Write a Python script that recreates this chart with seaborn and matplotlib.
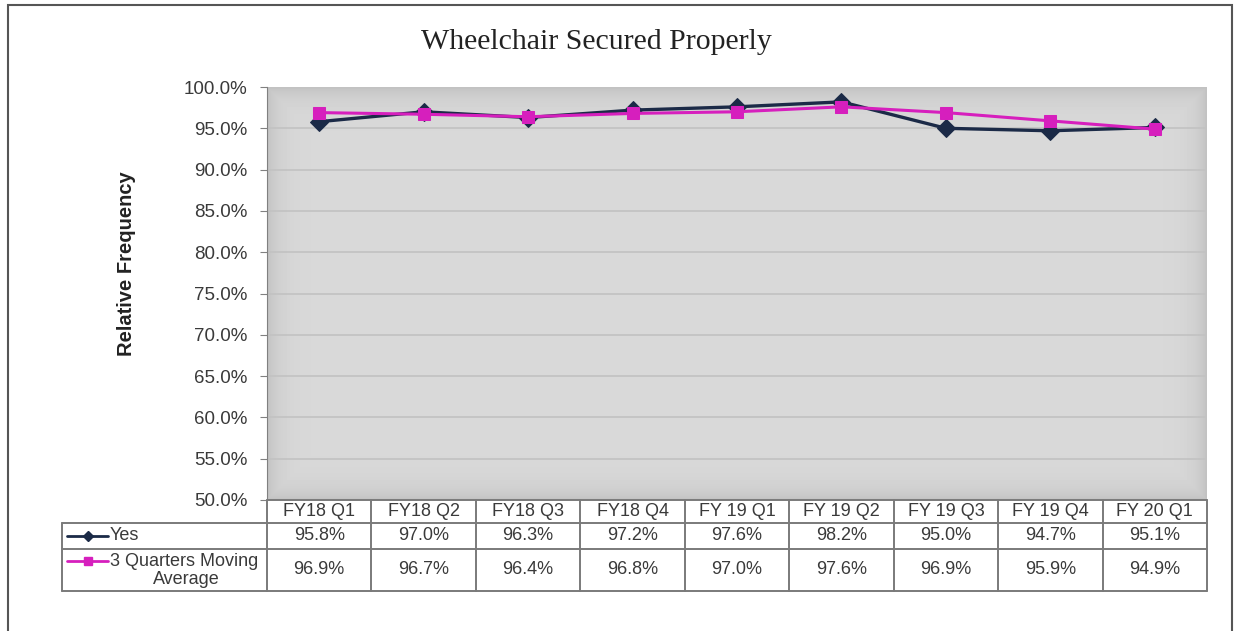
import numpy as np
import pandas as pd
import matplotlib
matplotlib.use("Agg")
import matplotlib.pyplot as plt
import matplotlib.transforms as mtrans
from matplotlib.lines import Line2D
from matplotlib.patches import Rectangle
import seaborn as sns

# ================== DATA ==================
quarters = ["FY18 Q1", "FY18 Q2", "FY18 Q3", "FY18 Q4", "FY 19 Q1",
            "FY 19 Q2", "FY 19 Q3", "FY 19 Q4", "FY 20 Q1"]
yes_vals = [95.8, 97.0, 96.3, 97.2, 97.6, 98.2, 95.0, 94.7, 95.1]
ma_vals = [96.9, 96.7, 96.4, 96.8, 97.0, 97.6, 96.9, 95.9, 94.9]
yticks = np.arange(50, 100.1, 5)

NAVY = "#1b2a47"
MAGENTA = "#d61fbd"
GRID = "#c2c2c2"
TXT = "#3a3a3a"

df = pd.DataFrame({"pos": np.arange(len(quarters)), "quarter": quarters,
                   "Yes": yes_vals, "MA": ma_vals})

# ================== FIGURE ==================
sns.set_style("white")
plt.rcParams["font.family"] = ["Liberation Sans", "DejaVu Sans"]

W, H = 1236, 631
fig = plt.figure(figsize=(W / 100, H / 100), dpi=100)


def fx(px):
    return px / W


def fy(py):
    return 1 - py / H


ax_l, ax_r, ax_t, ax_b = 267, 1207, 87, 500
ax = fig.add_axes([fx(ax_l), fy(ax_b), fx(ax_r - ax_l), fy(ax_t) - fy(ax_b)])

# plot area fill: flat light grey, darker toward the edges
pw, ph = ax_r - ax_l, ax_b - ax_t
yy, xx = np.mgrid[0:ph, 0:pw]
d = np.minimum(np.minimum(xx, pw - 1 - xx), np.minimum(yy, ph - 1 - yy))
shade = 0.85 - 0.09 * np.exp(-d / 12.0)
ax.imshow(shade, cmap="gray", vmin=0, vmax=1, extent=[0, 1, 0, 1],
          transform=ax.transAxes, aspect="auto", zorder=0, interpolation="bilinear")

for t in yticks[1:]:
    ax.axhline(t, color=GRID, lw=1.2, zorder=1)

sns.lineplot(data=df, x="pos", y="Yes", ax=ax, color=NAVY, lw=2.4, marker="D",
             markersize=9, markeredgecolor=NAVY, zorder=3)
sns.lineplot(data=df, x="pos", y="MA", ax=ax, color=MAGENTA, lw=2.2, marker="s",
             markersize=8, markeredgecolor=MAGENTA, zorder=4)

ax.set_xlim(-0.5, len(quarters) - 0.5)
ax.set_ylim(50, 100)
ax.set_yticks(yticks)
ax.set_yticklabels([f"{t:.1f}%" for t in yticks], fontsize=13.5, color=TXT)
ax.set_xticks([])
ax.set_xlabel("")
ax.set_ylabel("")
ax.tick_params(axis="y", length=5, color="#808080", pad=9, left=True)
for s in ["top", "right", "bottom"]:
    ax.spines[s].set_visible(False)
ax.spines["left"].set_color("#808080")

fig.text(fx(127), fy((172 + 355) / 2), "Relative Frequency", rotation=90,
         ha="center", va="center", fontsize=14.5, fontweight="bold", color="#222222")

fig.text(fx(596), fy(42), "Wheelchair Secured Properly", ha="center", va="center",
         fontsize=21.5, family=["Liberation Serif", "DejaVu Serif"], color="#222222")

# ================== DATA TABLE ==================
LC = "#7a7a7a"
row_y = [500, 523, 549, 591]
tbl_left = 62


def hline(x0, x1, y):
    fig.add_artist(Line2D([fx(x0), fx(x1)], [fy(y), fy(y)], color=LC, lw=1.4))


def vline(x, y0, y1):
    fig.add_artist(Line2D([fx(x), fx(x)], [fy(y0), fy(y1)], color=LC, lw=1.4))


hline(ax_l, ax_r, row_y[0])
for y in row_y[1:]:
    hline(tbl_left, ax_r, y)
vline(tbl_left, row_y[1], row_y[3])
col_w = (ax_r - ax_l) / len(quarters)
for i in range(len(quarters) + 1):
    vline(ax_l + i * col_w, row_y[0], row_y[3])

btrans = mtrans.blended_transform_factory(ax.transData, fig.transFigure)
for i, q in enumerate(quarters):
    fig.text(i, fy((row_y[0] + row_y[1]) / 2), q, transform=btrans, ha="center",
             va="center", fontsize=13, color=TXT)
    fig.text(i, fy((row_y[1] + row_y[2]) / 2), f"{yes_vals[i]:.1f}%", transform=btrans,
             ha="center", va="center", fontsize=13, color=TXT)
    fig.text(i, fy((row_y[2] + row_y[3]) / 2), f"{ma_vals[i]:.1f}%", transform=btrans,
             ha="center", va="center", fontsize=13, color=TXT)

# legend keys in the table
ky = (row_y[1] + row_y[2]) / 2
fig.add_artist(Line2D([fx(67), fx(108)], [fy(ky), fy(ky)], color=NAVY, lw=2))
fig.add_artist(Line2D([fx(88)], [fy(ky)], color=NAVY, marker="D", markersize=5))
fig.text(fx(110), fy(ky), "Yes", ha="left", va="center", fontsize=13, color=TXT)

ky2 = 561
fig.add_artist(Line2D([fx(67), fx(108)], [fy(ky2), fy(ky2)], color=MAGENTA, lw=2))
fig.add_artist(Line2D([fx(88)], [fy(ky2)], color=MAGENTA, marker="s", markersize=6))
fig.text(fx(110), fy(ky2), "3 Quarters Moving", ha="left", va="center", fontsize=13,
         color=TXT)
fig.text(fx(186), fy(580), "Average", ha="center", va="center", fontsize=13,
         color=TXT)

# outer frame
fig.add_artist(Rectangle((fx(8), fy(645)), fx(1232 - 8), fy(5) - fy(645), fill=False,
                         edgecolor="#555555", lw=1.5))

fig.savefig("out.png", dpi=100)
